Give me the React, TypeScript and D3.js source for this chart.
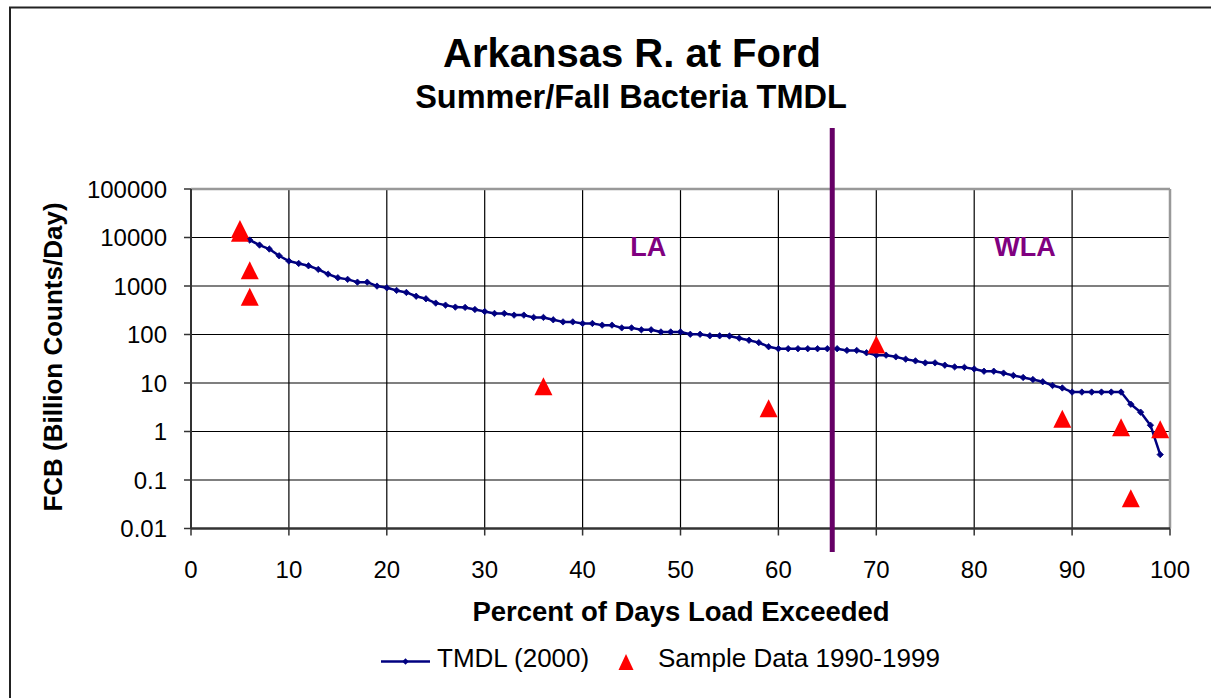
import React from "react";
import * as d3 from "d3";

const tmdlPct = [5,6,7,8,9,10,11,12,13,14,15,16,17,18,19,20,21,22,23,24,25,26,27,28,29,30,31,32,33,34,35,36,37,38,39,40,41,42,43,44,45,46,47,48,49,50,51,52,53,54,55,56,57,58,59,60,61,62,63,64,65,66,67,68,69,70,71,72,73,74,75,76,77,78,79,80,81,82,83,84,85,86,87,88,89,90,91,92,93,94,95,96,97,98,99];
const tmdlValues = [10000,8860,6980,5780,4200,3270,2920,2610,2200,1760,1480,1370,1200,1200,995,918,811,736,615,545,444,403,367,362,328,298,272,272,251,251,225,225,201,182,182,169,169,156,156,137,137,125,125,113,113,113,101,101,94,94,93,84,76,68,56,51,51,51,51,51,51,51,47,47,42,37.5,37.5,34.6,31,28.6,26,26,23.3,21.5,21,19.5,17.5,17.5,16,14.3,13,11.8,10.6,8.9,7.9,6.5,6.5,6.5,6.5,6.5,6.5,3.65,2.5,1.35,0.334];

const samplePct = [5, 5, 6, 6, 36, 59, 70, 89, 95, 96, 99];
const sampleValues = [15000, 12500, 2100, 600, 8.6, 3.0, 62, 1.83, 1.23, 0.042, 1.11];

const xTicks = [0, 10, 20, 30, 40, 50, 60, 70, 80, 90, 100];
const yTicks = [0.01, 0.1, 1, 10, 100, 1000, 10000, 100000];
const yTickLabels = ["0.01", "0.1", "1", "10", "100", "1000", "10000", "100000"];

const dividerPct = 65.5;
const zoneLabels = ["LA", "WLA"];
const zonePct = [46.7, 85.2];
const zoneValue = [4100, 4100];

const titleText = "Arkansas R. at Ford";
const subtitleText = "Summer/Fall Bacteria TMDL";
const xTitle = "Percent of Days Load Exceeded";
const yTitle = "FCB (Billion Counts/Day)";
const legendLabels = ["TMDL (2000)", "Sample Data 1990-1999"];

const FONT = "'Liberation Sans', Arial, sans-serif";

function tri(cx: number, cy: number, w: number, h: number) {
  return `M${cx},${cy - h / 2}L${cx + w / 2},${cy + h / 2}L${cx - w / 2},${cy + h / 2}Z`;
}
function diamond(cx: number, cy: number, r: number) {
  return `M${cx},${cy - r}L${cx + r},${cy}L${cx},${cy + r}L${cx - r},${cy}Z`;
}

export default function App() {
  const W = 1211, H = 698;
  const x = d3.scaleLinear().domain([0, 100]).range([191, 1170]);
  const y = d3.scaleLog().domain([0.01, 100000]).range([528.5, 189]);

  const line = d3
    .line<number>()
    .x((_, i) => x(tmdlPct[i]))
    .y((d) => y(d));

  const x0 = x(0), x1 = x(100), yTop = y(100000), yBot = y(0.01);

  return (
    <svg width={W} height={H} style={{ position: "absolute", left: 0, top: 0, background: "#fff" }} fontFamily={FONT}>
      <rect x={0} y={0} width={W} height={H} fill="#fff" />
      <rect x={10} y={7.5} width={1400} height={900} fill="none" stroke="#222" strokeWidth={2} />

      <text x={632} y={67} textAnchor="middle" fontSize={40} fontWeight="bold">{titleText}</text>
      <text x={631} y={108} textAnchor="middle" fontSize={32.5} fontWeight="bold">{subtitleText}</text>

      {/* gridlines */}
      {yTicks.slice(1, -1).map((t) => (
        <line key={"gy" + t} x1={x0} x2={x1} y1={y(t)} y2={y(t)} stroke="#000" strokeWidth={1.2} />
      ))}
      {xTicks.slice(1, -1).map((t) => (
        <line key={"gx" + t} x1={x(t)} x2={x(t)} y1={yTop} y2={yBot} stroke="#000" strokeWidth={1.2} />
      ))}
      {/* plot border top/right */}
      <line x1={x0} x2={x1} y1={yTop} y2={yTop} stroke="#999" strokeWidth={2.5} />
      <line x1={x1} x2={x1} y1={yTop} y2={yBot} stroke="#999" strokeWidth={2.5} />
      {/* axes */}
      <line x1={x0} x2={x0} y1={yTop} y2={yBot} stroke="#333" strokeWidth={2} />
      <line x1={x0} x2={x1} y1={yBot} y2={yBot} stroke="#333" strokeWidth={2.5} />
      {yTicks.map((t, i) => (
        <g key={"ty" + t}>
          <line x1={x0 - 7} x2={x0} y1={y(t)} y2={y(t)} stroke="#333" strokeWidth={1.5} />
          <text x={167} y={y(t)} dy="0.36em" textAnchor="end" fontSize={24}>{yTickLabels[i]}</text>
        </g>
      ))}
      {xTicks.map((t) => (
        <g key={"tx" + t}>
          <line x1={x(t)} x2={x(t)} y1={yBot} y2={yBot + 7} stroke="#333" strokeWidth={1.5} />
          <text x={x(t)} y={577.5} textAnchor="middle" fontSize={24}>{t}</text>
        </g>
      ))}

      <text x={681} y={621} textAnchor="middle" fontSize={27.5} fontWeight="bold">{xTitle}</text>
      <text transform={`translate(62,357) rotate(-90)`} textAnchor="middle" fontSize={26} fontWeight="bold">{yTitle}</text>

      {/* TMDL line */}
      <path d={line(tmdlValues) || ""} fill="none" stroke="#000080" strokeWidth={2.5} strokeLinejoin="round" />
      {tmdlValues.map((v, i) => (
        <path key={"m" + i} d={diamond(x(tmdlPct[i]), y(v), 3.2)} fill="#000080" stroke="#000080" strokeWidth={0.8} />
      ))}

      {/* divider */}
      <line x1={x(dividerPct)} x2={x(dividerPct)} y1={128} y2={552} stroke="#660066" strokeWidth={5} />

      {zoneLabels.map((l, i) => (
        <text key={l} x={x(zonePct[i])} y={y(zoneValue[i])} textAnchor="middle" fontSize={27} fontWeight="bold" fill="#800080">{l}</text>
      ))}

      {/* samples */}
      {sampleValues.map((v, i) => (
        <path key={"s" + i} d={tri(x(samplePct[i]), y(v), 18, 18)} fill="#ff0000" />
      ))}

      {/* legend */}
      <line x1={381} x2={430} y1={661.5} y2={661.5} stroke="#000080" strokeWidth={2.5} />
      <path d={diamond(405.5, 661.5, 3.2)} fill="#000080" />
      <text x={437} y={667} fontSize={26}>{legendLabels[0]}</text>
      <path d={tri(626, 662, 15, 16)} fill="#ff0000" />
      <text x={658} y={667} fontSize={26}>{legendLabels[1]}</text>
    </svg>
  );
}
